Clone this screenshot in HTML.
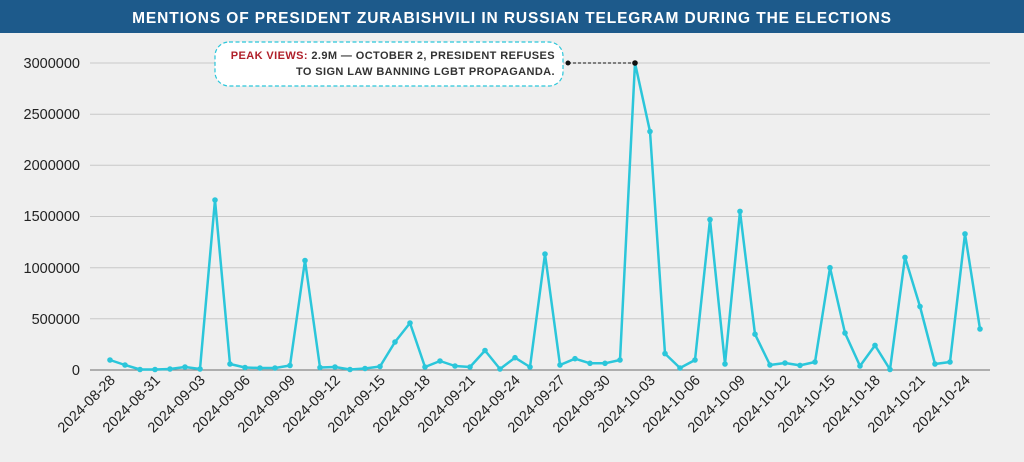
<!DOCTYPE html>
<html><head><meta charset="utf-8"><style>
html,body{margin:0;padding:0;background:#efefef;}
body{width:1024px;height:457px;overflow:hidden;font-family:"Liberation Sans",sans-serif;}
</style></head><body>
<svg width="1024" height="457" xmlns="http://www.w3.org/2000/svg" font-family="Liberation Sans, sans-serif">
<rect width="1024" height="457" fill="#efefef"/>
<rect width="1024" height="33" fill="#1d5a8b"/>
<text x="512" y="23" text-anchor="middle" fill="#fff" font-size="15.5" font-weight="bold" letter-spacing="0.9">MENTIONS OF PRESIDENT ZURABISHVILI IN RUSSIAN TELEGRAM DURING THE ELECTIONS</text>
<g stroke="#c8c8c8" stroke-width="1">
<line x1="90" x2="990" y1="63" y2="63"/><line x1="90" x2="990" y1="114.2" y2="114.2"/><line x1="90" x2="990" y1="165.3" y2="165.3"/><line x1="90" x2="990" y1="216.5" y2="216.5"/><line x1="90" x2="990" y1="267.7" y2="267.7"/><line x1="90" x2="990" y1="318.8" y2="318.8"/>
</g>
<line x1="90" x2="990" y1="370" y2="370" stroke="#888" stroke-width="1.2"/>
<g font-size="14.5" fill="#222" text-anchor="end">
<text x="80" y="68">3000000</text><text x="80" y="119">2500000</text><text x="80" y="170">2000000</text><text x="80" y="221">1500000</text><text x="80" y="273">1000000</text><text x="80" y="324">500000</text><text x="80" y="375">0</text>
</g>
<g font-size="14.5" fill="#222" text-anchor="end">
<text transform="translate(116,381) rotate(-45)">2024-08-28</text>
<text transform="translate(161,381) rotate(-45)">2024-08-31</text>
<text transform="translate(206,381) rotate(-45)">2024-09-03</text>
<text transform="translate(251,381) rotate(-45)">2024-09-06</text>
<text transform="translate(296,381) rotate(-45)">2024-09-09</text>
<text transform="translate(341,381) rotate(-45)">2024-09-12</text>
<text transform="translate(386,381) rotate(-45)">2024-09-15</text>
<text transform="translate(431,381) rotate(-45)">2024-09-18</text>
<text transform="translate(476,381) rotate(-45)">2024-09-21</text>
<text transform="translate(521,381) rotate(-45)">2024-09-24</text>
<text transform="translate(566,381) rotate(-45)">2024-09-27</text>
<text transform="translate(611,381) rotate(-45)">2024-09-30</text>
<text transform="translate(656,381) rotate(-45)">2024-10-03</text>
<text transform="translate(701,381) rotate(-45)">2024-10-06</text>
<text transform="translate(746,381) rotate(-45)">2024-10-09</text>
<text transform="translate(791,381) rotate(-45)">2024-10-12</text>
<text transform="translate(836,381) rotate(-45)">2024-10-15</text>
<text transform="translate(881,381) rotate(-45)">2024-10-18</text>
<text transform="translate(926,381) rotate(-45)">2024-10-21</text>
<text transform="translate(971,381) rotate(-45)">2024-10-24</text>
</g>
<polyline fill="none" stroke="#2bc6da" stroke-width="2.5" stroke-linejoin="round" points="110,360 125,365 140,369.5 155,369.5 170,369 185,367 200,369 215,200 230,364 245,367.5 260,368 275,368 290,365.5 305,260.5 320,367.5 335,367 350,369.5 365,368.5 380,366.5 395,342 410,323 425,367 440,361 455,366 470,367 485,350.5 500,369 515,357.7 530,367 545,254 560,365 575,358.7 590,363.3 605,363.3 620,360 635,63 650,131.5 665,353.6 680,368 695,360 710,219.6 725,364 740,211.4 755,334.2 770,365 785,363 800,365.4 815,362 830,267.7 845,333 860,366 875,345.4 890,369.5 905,257.4 920,306.5 935,364 950,362 965,233.9 980,329"/>
<g fill="#2bc6da">
<circle cx="110" cy="360" r="2.8"/><circle cx="125" cy="365" r="2.8"/><circle cx="140" cy="369.5" r="2.8"/><circle cx="155" cy="369.5" r="2.8"/><circle cx="170" cy="369" r="2.8"/><circle cx="185" cy="367" r="2.8"/><circle cx="200" cy="369" r="2.8"/><circle cx="215" cy="200" r="2.8"/><circle cx="230" cy="364" r="2.8"/><circle cx="245" cy="367.5" r="2.8"/><circle cx="260" cy="368" r="2.8"/><circle cx="275" cy="368" r="2.8"/><circle cx="290" cy="365.5" r="2.8"/><circle cx="305" cy="260.5" r="2.8"/><circle cx="320" cy="367.5" r="2.8"/><circle cx="335" cy="367" r="2.8"/><circle cx="350" cy="369.5" r="2.8"/><circle cx="365" cy="368.5" r="2.8"/><circle cx="380" cy="366.5" r="2.8"/><circle cx="395" cy="342" r="2.8"/><circle cx="410" cy="323" r="2.8"/><circle cx="425" cy="367" r="2.8"/><circle cx="440" cy="361" r="2.8"/><circle cx="455" cy="366" r="2.8"/><circle cx="470" cy="367" r="2.8"/><circle cx="485" cy="350.5" r="2.8"/><circle cx="500" cy="369" r="2.8"/><circle cx="515" cy="357.7" r="2.8"/><circle cx="530" cy="367" r="2.8"/><circle cx="545" cy="254" r="2.8"/><circle cx="560" cy="365" r="2.8"/><circle cx="575" cy="358.7" r="2.8"/><circle cx="590" cy="363.3" r="2.8"/><circle cx="605" cy="363.3" r="2.8"/><circle cx="620" cy="360" r="2.8"/><circle cx="650" cy="131.5" r="2.8"/><circle cx="665" cy="353.6" r="2.8"/><circle cx="680" cy="368" r="2.8"/><circle cx="695" cy="360" r="2.8"/><circle cx="710" cy="219.6" r="2.8"/><circle cx="725" cy="364" r="2.8"/><circle cx="740" cy="211.4" r="2.8"/><circle cx="755" cy="334.2" r="2.8"/><circle cx="770" cy="365" r="2.8"/><circle cx="785" cy="363" r="2.8"/><circle cx="800" cy="365.4" r="2.8"/><circle cx="815" cy="362" r="2.8"/><circle cx="830" cy="267.7" r="2.8"/><circle cx="845" cy="333" r="2.8"/><circle cx="860" cy="366" r="2.8"/><circle cx="875" cy="345.4" r="2.8"/><circle cx="890" cy="369.5" r="2.8"/><circle cx="905" cy="257.4" r="2.8"/><circle cx="920" cy="306.5" r="2.8"/><circle cx="935" cy="364" r="2.8"/><circle cx="950" cy="362" r="2.8"/><circle cx="965" cy="233.9" r="2.8"/><circle cx="980" cy="329" r="2.8"/>
</g>
<line x1="568" x2="635" y1="63" y2="63" stroke="#111" stroke-width="1" stroke-dasharray="3,2"/>
<circle cx="568" cy="63" r="2.5" fill="#111"/><circle cx="635" cy="63" r="2.8" fill="#111"/>
<rect x="215" y="42" width="348" height="44" rx="14" fill="#fff" stroke="#2bc6da" stroke-width="1.2" stroke-dasharray="4,2.5"/>
<g font-size="11" font-weight="bold" fill="#333" text-anchor="end" letter-spacing="0.4">
<text x="555" y="59"><tspan fill="#b0202a">PEAK VIEWS:</tspan> 2.9M — OCTOBER 2, PRESIDENT REFUSES</text>
<text x="555" y="75">TO SIGN LAW BANNING LGBT PROPAGANDA.</text>
</g>
</svg>
</body></html>
